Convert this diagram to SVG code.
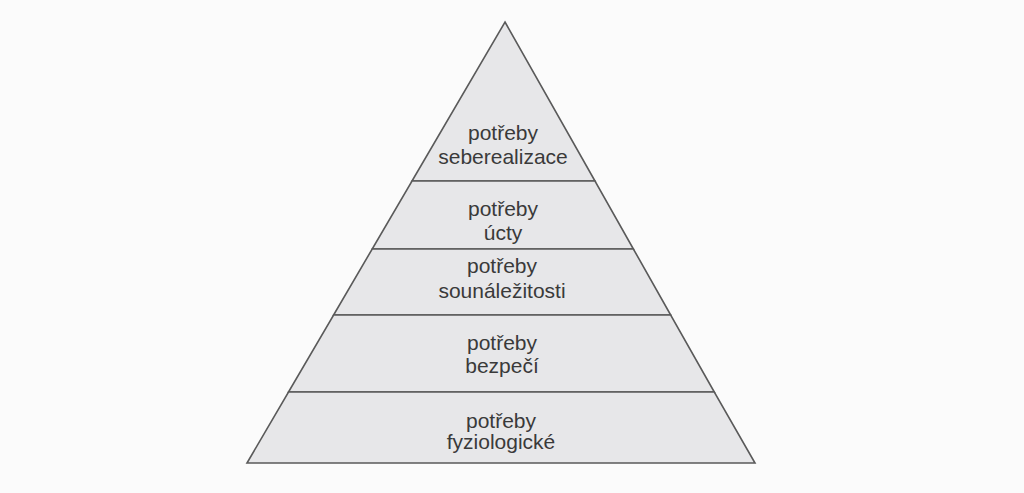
<svg xmlns="http://www.w3.org/2000/svg" width="1024" height="493" viewBox="0 0 1024 493">
<style>
.band{fill:#e7e7e9;stroke:#5a5a5a;stroke-width:1.6;stroke-linejoin:miter}
.t{font-family:"Liberation Sans",Arial,sans-serif;font-size:21px;fill:#3a3a3a;text-anchor:middle}
</style>
<rect width="1024" height="493" fill="#fbfbfb"/>
<g id="seberealizace">
<polygon class="band" points="505,22 595,181 412,181"/>
<text class="t" x="503" y="140">potřeby</text>
<text class="t" x="503" y="164">seberealizace</text>
</g>
<g id="ucty">
<polygon class="band" points="412,181 595,181 633.4,249 372.2,249"/>
<text class="t" x="503" y="216">potřeby</text>
<text class="t" x="503" y="240">úcty</text>
</g>
<g id="sounalezitosti">
<polygon class="band" points="372.2,249 633.4,249 670.7,315 333.6,315"/>
<text class="t" x="502" y="273">potřeby</text>
<text class="t" x="502" y="298">sounáležitosti</text>
</g>
<g id="bezpeci">
<polygon class="band" points="333.6,315 670.7,315 714.3,392 288.5,392"/>
<text class="t" x="502" y="350">potřeby</text>
<text class="t" x="502" y="373">bezpečí</text>
</g>
<g id="fyziologicke">
<polygon class="band" points="288.5,392 714.3,392 755,463 247,463"/>
<text class="t" x="501" y="428">potřeby</text>
<text class="t" x="501" y="449">fyziologické</text>
</g>
<g id="connectors"></g>
</svg>
